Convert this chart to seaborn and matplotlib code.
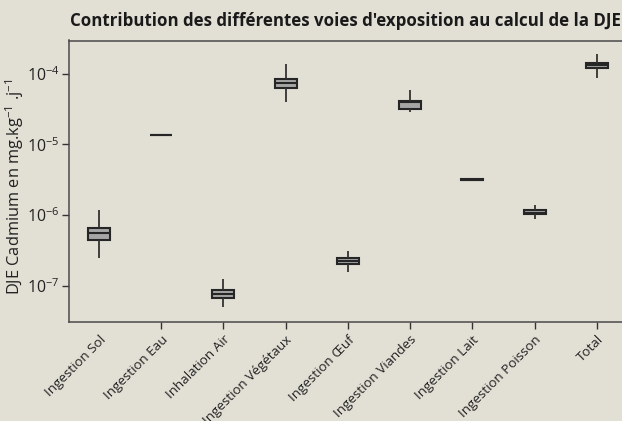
import numpy as np
import pandas as pd
import matplotlib
matplotlib.use("Agg")
import matplotlib.pyplot as plt
from matplotlib.ticker import FixedLocator, FuncFormatter
import seaborn as sns

# ---- data ----
categories = ["Ingestion Sol", "Ingestion Eau", "Inhalation Air", "Ingestion Végétaux",
              "Ingestion Œuf", "Ingestion Viandes", "Ingestion Lait", "Ingestion Poisson", "Total"]
whisker_low = [2.50e-7, 1.35e-5, 4.94e-8, 4.01e-5, 1.58e-7, 2.92e-5, 3.12e-6, 8.75e-7, 8.67e-5]
q1 = [4.46e-7, 1.35e-5, 6.76e-8, 6.25e-5, 2.05e-7, 3.18e-5, 3.12e-6, 1.03e-6, 1.22e-4]
median = [5.55e-7, 1.35e-5, 7.71e-8, 7.45e-5, 2.26e-7, 4.01e-5, 3.16e-6, 1.08e-6, 1.32e-4]
q3 = [6.65e-7, 1.35e-5, 8.69e-8, 8.58e-5, 2.45e-7, 4.18e-5, 3.20e-6, 1.17e-6, 1.43e-4]
whisker_high = [1.17e-6, 1.35e-5, 1.24e-7, 1.40e-4, 3.11e-7, 5.93e-5, 3.20e-6, 1.38e-6, 1.94e-4]
y_ticks = [1e-7, 1e-6, 1e-5, 1e-4]

title = "Contribution des différentes voies d'exposition au calcul de la DJE"
ylabel = "DJE Cadmium en mg.kg$^{-1}$ .j$^{-1}$"

rows = []
for i, c in enumerate(categories):
    for v in (whisker_low[i], q1[i], median[i], q3[i], whisker_high[i]):
        rows.append({"voie": c, "valeur": v})
df = pd.DataFrame(rows)

bg = "#e2dfd5"
sns.set_theme(style="ticks", rc={"axes.facecolor": bg, "figure.facecolor": bg})
plt.rcParams["font.family"] = ["Open Sans", "DejaVu Sans"]
plt.rcParams["mathtext.fontset"] = "custom"
plt.rcParams["mathtext.rm"] = "Open Sans"
plt.rcParams["mathtext.it"] = "Open Sans:italic"
plt.rcParams["mathtext.bf"] = "Open Sans:bold"
plt.rcParams["mathtext.default"] = "regular"

fig = plt.figure(figsize=(6.22, 4.21), dpi=100)
ax = fig.add_axes([69 / 622, 99 / 421, 559 / 622, 281.5 / 421])

sns.boxplot(data=df, x="voie", y="valeur", order=categories, log_scale=True,
            whis=(0, 100), width=0.35, color="#a6a6a6", saturation=1,
            linecolor="#262626", linewidth=1.5, fliersize=0, showcaps=False,
            whiskerprops={"color": "#333333", "linewidth": 1.3}, ax=ax)

ax.set_ylim(10 ** -7.515, 10 ** -3.527)
ax.set_xlim(-0.48, 8.5)
ax.set_xlabel("")
ax.set_ylabel(ylabel, fontsize=11.8, color="#222222")
ax.yaxis.set_label_coords(-0.077, 0.48)
ax.minorticks_off()
ax.yaxis.set_major_locator(FixedLocator(y_ticks))
ax.yaxis.set_major_formatter(FuncFormatter(lambda v, p: "10$^{%d}$" % int(round(np.log10(v)))))
ax.tick_params(axis="y", labelsize=11.5, length=5, width=1, color="#333333", labelcolor="#222222", pad=1.5)
ax.tick_params(axis="x", labelsize=9.6, length=5, width=1, color="#333333", labelcolor="#222222", pad=3)
ax.set_xticks(range(len(categories)))
ax.set_xticklabels(categories, rotation=45, ha="right", rotation_mode="anchor")
ax.xaxis.get_major_ticks()[0].tick1line.set_visible(False)

for s in ["left", "bottom", "top", "right"]:
    ax.spines[s].set_visible(True)
    ax.spines[s].set_color("#4a4a4a")
    ax.spines[s].set_linewidth(1.1)

fig.text(70 / 622, 1 - 26.5 / 421, title, fontsize=12.15, fontweight="bold",
         color="#1a1a1a", ha="left", va="baseline")

fig.savefig("out.png", dpi=100, facecolor=bg)
